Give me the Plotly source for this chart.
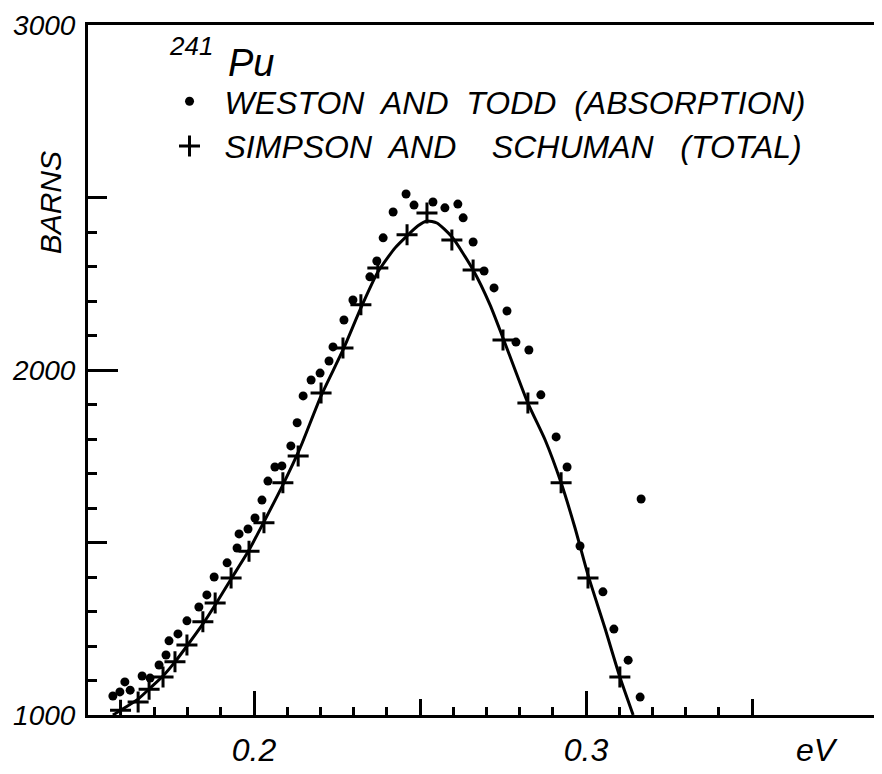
import plotly.graph_objects as go

# Weston and Todd (absorption) - dots
wt_x = [0.1575, 0.1596, 0.1611, 0.1627, 0.1663, 0.1687, 0.1714, 0.1735, 0.1744, 0.1771,
        0.1798, 0.1834, 0.1858, 0.1880, 0.1919, 0.1949, 0.1955, 0.1982, 0.2003, 0.2024,
        0.2042, 0.2063, 0.2084, 0.2111, 0.2130, 0.2148, 0.2172, 0.2199, 0.2226, 0.2238,
        0.2271, 0.2298, 0.2349, 0.2370, 0.2389, 0.2419, 0.2458, 0.2482, 0.2539, 0.2575,
        0.2614, 0.2630, 0.2660, 0.2693, 0.2723, 0.2762, 0.2789, 0.2828, 0.2864, 0.2910,
        0.2943, 0.2982, 0.3051, 0.3084, 0.3127, 0.3163, 0.3166]
wt_y = [1055, 1067, 1096, 1072, 1113, 1107, 1145, 1174, 1215, 1235,
        1273, 1313, 1348, 1400, 1441, 1484, 1525, 1539, 1571, 1623,
        1678, 1719, 1722, 1780, 1847, 1925, 1971, 1991, 2026, 2067,
        2145, 2203, 2270, 2316, 2383, 2458, 2510, 2478, 2487, 2470,
        2481, 2441, 2371, 2287, 2238, 2171, 2081, 2058, 1928, 1806,
        1719, 1490, 1357, 1249, 1159, 1052, 1626]

# Simpson and Schuman (total) - crosses
ss_x = [0.1598, 0.1651, 0.1684, 0.1726, 0.1762, 0.1798, 0.1846, 0.1883, 0.1931, 0.1985,
        0.2030, 0.2087, 0.2133, 0.2202, 0.2268, 0.2322, 0.2373, 0.2461, 0.2521, 0.2596,
        0.2660, 0.2750, 0.2825, 0.2925, 0.3006, 0.3102]
ss_y = [1014, 1038, 1075, 1110, 1154, 1203, 1270, 1325, 1397, 1475,
        1557, 1673, 1751, 1933, 2064, 2189, 2296, 2392, 2455, 2377,
        2290, 2087, 1904, 1673, 1397, 1110]

# Smooth curve
curve_x = [0.1575, 0.1599, 0.1651, 0.1687, 0.1726, 0.1762, 0.1798, 0.1846, 0.1883, 0.1931,
           0.1985, 0.2030, 0.2087, 0.2139, 0.2202, 0.2268, 0.2322, 0.2373, 0.2425, 0.2461,
           0.2494, 0.2521, 0.2551, 0.2596, 0.2660, 0.2711, 0.2750, 0.2825, 0.2877, 0.2925,
           0.2967, 0.3006, 0.3057, 0.3102, 0.3142]
curve_y = [1000, 1014, 1046, 1078, 1113, 1154, 1200, 1264, 1319, 1394,
           1478, 1560, 1667, 1774, 1925, 2058, 2180, 2284, 2354, 2389,
           2418, 2432, 2426, 2386, 2290, 2189, 2093, 1904, 1797, 1673,
           1542, 1406, 1252, 1110, 1000]

x_major = [0.2, 0.3]
x_major_text = ["0.2", "0.3"]
x_mid = [0.25, 0.35]
x_minor = [0.17, 0.18, 0.19, 0.21, 0.22, 0.23, 0.24, 0.26, 0.27, 0.28, 0.29,
           0.31, 0.32, 0.33, 0.34]
y_major = [1000, 2000, 3000]
y_major_text = ["1000", "2000", "3000"]
y_mid = [1500, 2500]
y_minor = [1100, 1200, 1300, 1400, 1600, 1700, 1800, 1900,
           2100, 2200, 2300, 2400]

name_wt = "WESTON\u00a0 AND\u00a0 TODD\u00a0 (ABSORPTION)"
name_ss = "SIMPSON\u00a0 AND\u00a0\u00a0\u00a0 SCHUMAN\u00a0\u00a0 (TOTAL)"

FONT = "Liberation Sans"
XR = [0.15, 0.15 + 792 / 3320]
YR = [1000, 3000]

fig = go.Figure()
fig.add_trace(go.Scatter(x=curve_x, y=curve_y, mode="lines",
                         line=dict(color="black", width=3, shape="spline", smoothing=0.6),
                         showlegend=False, hoverinfo="skip"))
fig.add_trace(go.Scatter(x=wt_x, y=wt_y, mode="markers", name=name_wt,
                         marker=dict(symbol="circle", size=9, color="black")))
fig.add_trace(go.Scatter(x=ss_x, y=ss_y, mode="markers", name=name_ss,
                         marker=dict(symbol="cross-thin", size=15, color="black",
                                     line=dict(color="black", width=3))))
fig.add_trace(go.Scatter(x=[None], y=[None], xaxis="x2", yaxis="y2",
                         showlegend=False, hoverinfo="skip"))
fig.add_trace(go.Scatter(x=[None], y=[None], xaxis="x3", yaxis="y",
                         showlegend=False, hoverinfo="skip"))

tickfont = dict(family=FONT, size=32, color="black", style="italic")
fig.update_layout(
    width=874, height=766,
    margin=dict(l=80, r=2, t=17, b=59),
    paper_bgcolor="white", plot_bgcolor="white",
    font=dict(family=FONT, color="black", style="italic"),
    xaxis=dict(range=XR, showgrid=False, zeroline=False, automargin=False,
               showline=True, linecolor="black", linewidth=3, mirror=False,
               tickmode="array", tickvals=x_major, ticktext=x_major_text,
               ticks="inside", ticklen=24, tickwidth=3, tickcolor="black",
               tickfont=tickfont, ticklabelstandoff=5,
               minor=dict(tickmode="array", tickvals=x_minor, ticks="inside",
                          ticklen=8, tickwidth=3, tickcolor="black")),
    xaxis2=dict(range=XR, overlaying="x", anchor="y", side="bottom",
                showgrid=False, zeroline=False, showline=False, automargin=False,
                tickmode="array", tickvals=x_mid, ticktext=["", ""],
                ticks="inside", ticklen=16, tickwidth=3, tickcolor="black"),
    xaxis3=dict(range=XR, overlaying="x", anchor="y", side="top",
                showgrid=False, zeroline=False, automargin=False,
                showline=True, linecolor="black", linewidth=3,
                showticklabels=False, ticks=""),
    yaxis=dict(range=YR, showgrid=False, zeroline=False, automargin=False,
               showline=True, linecolor="black", linewidth=3,
               tickmode="array", tickvals=y_major, ticktext=y_major_text,
               ticks="inside", ticklen=30, tickwidth=3, tickcolor="black",
               tickfont=dict(family=FONT, size=28, color="black", style="italic"),
               ticklabelstandoff=4,
               minor=dict(tickmode="array", tickvals=y_minor, ticks="inside",
                          ticklen=9, tickwidth=3, tickcolor="black")),
    yaxis2=dict(range=YR, overlaying="y", anchor="x", side="left",
                showgrid=False, zeroline=False, showline=False, automargin=False,
                tickmode="array", tickvals=y_mid, ticktext=["", ""],
                ticks="inside", ticklen=19, tickwidth=3, tickcolor="black"),
    legend=dict(x=0.084, y=0.929, xanchor="left", yanchor="top",
                font=dict(family=FONT, size=32, color="black", style="italic"),
                bgcolor="rgba(0,0,0,0)", itemwidth=60, tracegroupgap=0),
    showlegend=True,
)

fig.add_annotation(text="BARNS", xref="paper", yref="paper", x=-0.048, y=0.743,
                   xanchor="center", yanchor="middle", textangle=-90, showarrow=False,
                   font=dict(family=FONT, size=30, color="black", style="italic"))
fig.add_annotation(text="eV", xref="x", yref="paper", x=0.3696, y=-0.051,
                   xanchor="center", yanchor="middle", showarrow=False,
                   font=dict(family=FONT, size=32, color="black", style="italic"))
fig.add_annotation(text="241", xref="paper", yref="paper", x=0.130, y=0.970,
                   xanchor="center", yanchor="middle", showarrow=False,
                   font=dict(family=FONT, size=26, color="black", style="italic"))
fig.add_annotation(text="Pu", xref="paper", yref="paper", x=0.206, y=0.945,
                   xanchor="center", yanchor="middle", showarrow=False,
                   font=dict(family=FONT, size=38, color="black", style="italic"))

fig.write_html("out.html")
